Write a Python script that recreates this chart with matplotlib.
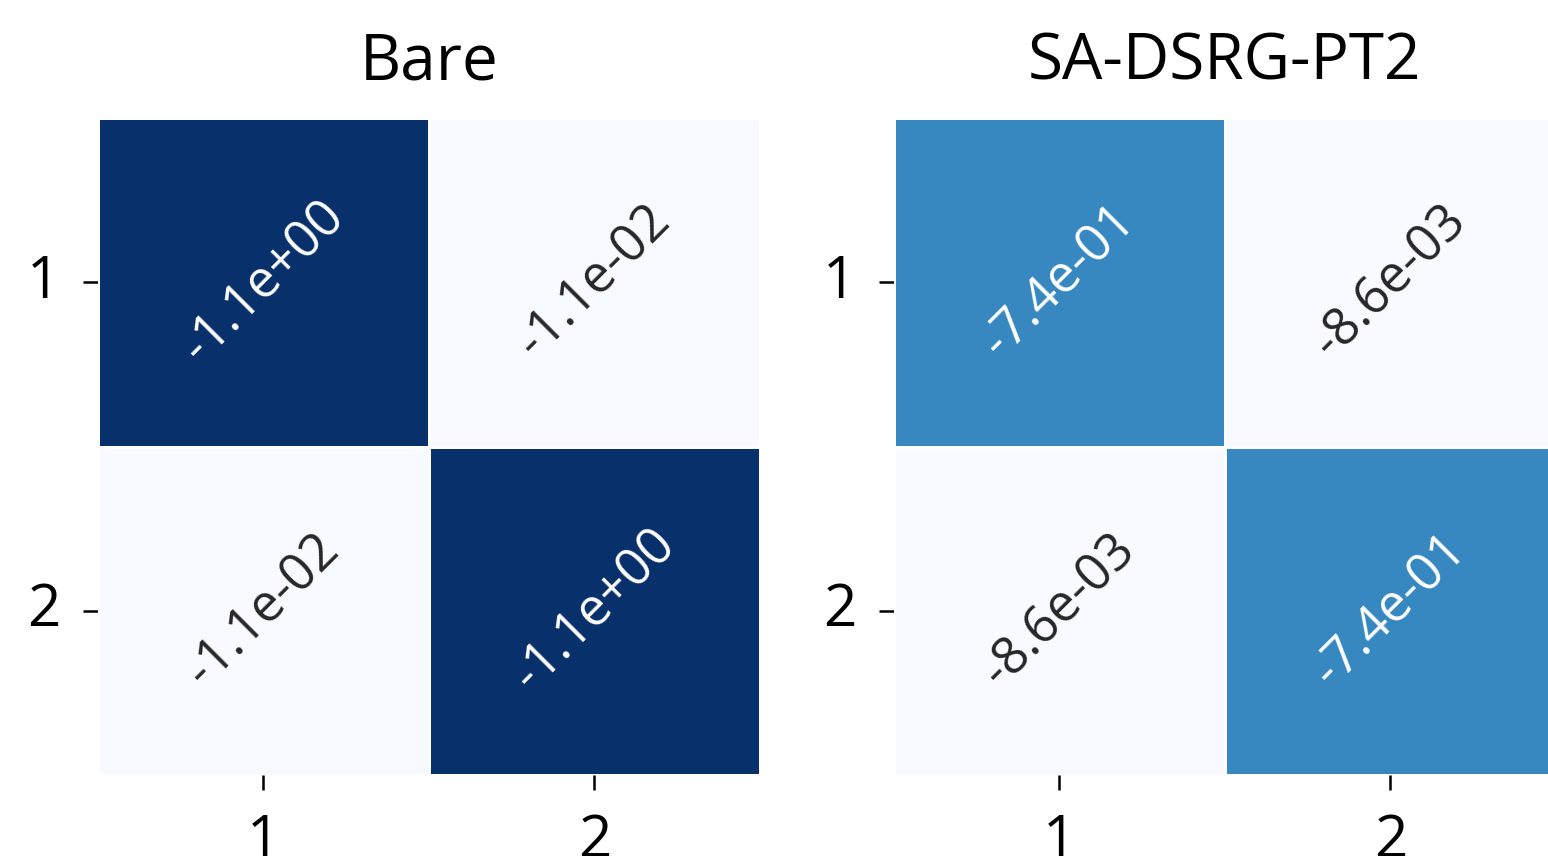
import numpy as np
import matplotlib
matplotlib.use("Agg")
import matplotlib.pyplot as plt
import seaborn as sns

# Effective Hamiltonian matrices (2 states)
states = ["1", "2"]
bare_diag = -1.11
bare_off = -0.011
dsrg_diag = -0.74
dsrg_off = -0.0086

bare = np.array([[bare_diag, bare_off],
                 [bare_off, bare_diag]])
dsrg = np.array([[dsrg_diag, dsrg_off],
                 [dsrg_off, dsrg_diag]])

titles = ["Bare", "SA-DSRG-PT2"]
mats = [bare, dsrg]

# shared colour scale over both matrices
vmin = min(m.min() for m in mats)
vmax = max(m.max() for m in mats)

sns.set_style("white")
plt.rcParams["font.family"] = ["Open Sans", "DejaVu Sans"]

fig = plt.figure(figsize=(7.74, 4.28), dpi=200)
positions = [[0.0633, 0.0946, 0.4276, 0.7675],
             [0.5775, 0.0946, 0.4276, 0.7675]]

for pos, mat, title in zip(positions, mats, titles):
    ax = fig.add_axes(pos)
    sns.heatmap(mat, ax=ax, cmap="Blues_r", vmin=vmin, vmax=vmax,
                annot=True, fmt=".1e", cbar=False,
                linewidths=1, linecolor="white",
                annot_kws={"rotation": 45, "fontsize": 18.5},
                xticklabels=states, yticklabels=states)
    ax.set_title(title, fontsize=23, pad=14, color="black")
    ax.tick_params(axis="both", labelsize=21, length=5.5, width=0.9,
                   pad=8, bottom=True, left=True, color="black",
                   labelcolor="black")
    ax.set_yticklabels(states, rotation=0)

fig.savefig("out.png", dpi=200)
